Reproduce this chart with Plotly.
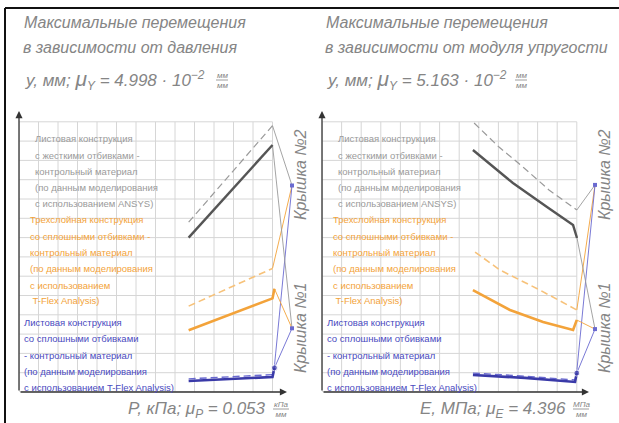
import plotly.graph_objects as go

W, H = 619, 423

# ---------------- data (drawing-grid units) ----------------
# Panel 1: displacement vs pressure
P_gray_solid_x = [8.7, 13.0]
P_gray_solid_y = [8.0, 12.8]
P_gray_dash_x = [8.7, 13.0]
P_gray_dash_y = [8.8, 13.8]
P_orange_solid_x = [8.7, 13.0, 13.1]
P_orange_solid_y = [3.2, 4.85, 5.35]
P_orange_dash_x = [8.7, 13.0]
P_orange_dash_y = [4.45, 6.4]
P_blue_solid_x = [8.7, 13.0, 13.1]
P_blue_solid_y = [0.57, 0.78, 1.25]
P_blue_dash_x = [8.7, 13.0, 13.1]
P_blue_dash_y = [0.68, 0.9, 1.35]
P_lid2 = [14.0, 10.7]
P_lid1 = [14.0, 3.3]

# Panel 2: displacement vs elastic modulus
E_gray_solid_x = [7.70, 8.57, 9.74, 11.48, 12.81, 13.01]
E_gray_solid_y = [12.54, 11.81, 10.83, 9.59, 8.65, 7.98]
E_gray_dash_x = [7.76, 9.03, 10.31, 11.58, 13.0]
E_gray_dash_y = [13.94, 12.69, 11.61, 10.47, 9.43]
E_orange_solid_x = [7.70, 8.57, 9.59, 11.28, 12.81, 13.0]
E_orange_solid_y = [5.28, 4.82, 4.25, 3.63, 3.21, 3.73]
E_orange_dash_x = [7.81, 9.08, 11.12, 13.0]
E_orange_dash_y = [7.25, 6.32, 5.28, 4.25]
E_blue_solid_x = [7.70, 10.36, 12.91, 13.0]
E_blue_solid_y = [0.88, 0.73, 0.52, 0.98]
E_blue_dash_x = [7.70, 10.36, 12.91, 13.0]
E_blue_dash_y = [0.98, 0.82, 0.62, 1.08]
E_lid2 = [13.93, 10.73]
E_lid1 = [13.93, 3.26]

GRID_NX, GRID_NY = 13, 14

titles1 = ["Максимальные перемещения", "в зависимости от давления"]
titles2 = ["Максимальные перемещения", "в зависимости от модуля упругости"]
mu_y1 = "4.998"
mu_y2 = "5.163"
xlab1 = ("P, кПа; μ", "P", "0.053", "кПа", "мм")
xlab2 = ("E, МПа; μ", "E", "4.396", "МПа", "мм")
lid_labels = ["Крышка №2", "Крышка №1"]

legend_gray = ["Листовая конструкция", "с жесткими отбивками -", "контрольный материал",
               "(по данным моделирования", "с использованием ANSYS)"]
legend_orange = ["Трехслойная конструкция", "со сплошными отбивками -", "контрольный материал",
                 "(по данным моделирования", "с использованием", " T-Flex Analysis)"]
legend_blue = ["Листовая конструкция", "со сплошными отбивками", "- контрольный материал",
               "(по данным моделирования", "с использованием T-Flex Analysis)"]

# ---------------- styles ----------------
C_GRAY_S = "#555555"
C_GRAY_D = "#9a9a9a"
C_OR = "#f3a33a"
C_OR_D = "#f7c27a"
C_BLUE = "#3a3aa8"
C_BLUE_L = "#6a6ad0"
C_TXT = "#858585"
FONT = "Liberation Sans, Arial, sans-serif"


def PX(x):
    return x / W


def PY(y):
    return 1 - y / H


fig = go.Figure()

panels = [
    dict(xa="x", ya="y", left=19, right=305, data=dict(
        gs=(P_gray_solid_x, P_gray_solid_y), gd=(P_gray_dash_x, P_gray_dash_y),
        os=(P_orange_solid_x, P_orange_solid_y), od=(P_orange_dash_x, P_orange_dash_y),
        bs=(P_blue_solid_x, P_blue_solid_y), bd=(P_blue_dash_x, P_blue_dash_y)),
        lid2=P_lid2, lid1=P_lid1, sx=19.5),
    dict(xa="x2", ya="y2", left=322, right=607, data=dict(
        gs=(E_gray_solid_x, E_gray_solid_y), gd=(E_gray_dash_x, E_gray_dash_y),
        os=(E_orange_solid_x, E_orange_solid_y), od=(E_orange_dash_x, E_orange_dash_y),
        bs=(E_blue_solid_x, E_blue_solid_y), bd=(E_blue_dash_x, E_blue_dash_y)),
        lid2=E_lid2, lid1=E_lid1, sx=19.6),
]

TOP, BOT, SY = 110, 392, 19.3

shapes = []
annotations = []

for k, p in enumerate(panels):
    xa, ya = p["xa"], p["ya"]
    d = p["data"]
    # grid
    for i in range(GRID_NX + 1):
        shapes.append(dict(type="line", xref=xa, yref=ya, x0=i, x1=i, y0=0, y1=GRID_NY,
                           line=dict(color="#d6d6d6", width=1), layer="below"))
    for j in range(GRID_NY + 1):
        shapes.append(dict(type="line", xref=xa, yref=ya, x0=0, x1=GRID_NX, y0=j, y1=j,
                           line=dict(color="#d6d6d6", width=1), layer="below"))
    # leader lines (lid 2 -> dashed curve ends, lid 1 -> solid curve ends)
    leaders = [
        ("gd", p["lid2"], C_GRAY_D), ("od", p["lid2"], C_OR), ("bd", p["lid2"], C_BLUE_L),
        ("gs", p["lid1"], C_GRAY_D), ("os", p["lid1"], C_OR), ("bs", p["lid1"], C_BLUE_L),
    ]
    for key, lid, col in leaders:
        xs, ys = d[key]
        fig.add_trace(go.Scatter(x=[lid[0], xs[-1]], y=[lid[1], ys[-1]], mode="lines",
                                 line=dict(color=col, width=0.9), xaxis=xa, yaxis=ya,
                                 showlegend=False, hoverinfo="skip"))
    # curves
    fig.add_trace(go.Scatter(x=d["gd"][0], y=d["gd"][1], mode="lines",
                             line=dict(color=C_GRAY_D, width=1.2, dash="7px,4px"),
                             xaxis=xa, yaxis=ya, showlegend=False))
    fig.add_trace(go.Scatter(x=d["gs"][0], y=d["gs"][1], mode="lines",
                             line=dict(color=C_GRAY_S, width=2.4),
                             xaxis=xa, yaxis=ya, showlegend=False))
    fig.add_trace(go.Scatter(x=d["od"][0], y=d["od"][1], mode="lines",
                             line=dict(color=C_OR_D, width=1.6, dash="7px,4px"),
                             xaxis=xa, yaxis=ya, showlegend=False))
    fig.add_trace(go.Scatter(x=d["os"][0], y=d["os"][1], mode="lines",
                             line=dict(color=C_OR, width=2.6),
                             xaxis=xa, yaxis=ya, showlegend=False))
    fig.add_trace(go.Scatter(x=d["bd"][0], y=d["bd"][1], mode="lines",
                             line=dict(color=C_BLUE_L, width=1.4, dash="7px,4px"),
                             xaxis=xa, yaxis=ya, showlegend=False))
    fig.add_trace(go.Scatter(x=d["bs"][0], y=d["bs"][1], mode="lines+markers",
                             line=dict(color=C_BLUE, width=2.6),
                             marker=dict(size=[0] * (len(d["bs"][0]) - 1) + [6], color=C_BLUE),
                             xaxis=xa, yaxis=ya, showlegend=False))
    fig.add_trace(go.Scatter(x=[p["lid2"][0], p["lid1"][0]], y=[p["lid2"][1], p["lid1"][1]],
                             mode="markers", marker=dict(size=4, color=C_BLUE_L, symbol="square"),
                             xaxis=xa, yaxis=ya, showlegend=False))
    # axes with arrows
    xend = (p["right"] - 18 - p["left"]) / p["sx"]
    annotations.append(dict(xref=xa, yref=ya, axref=xa, ayref=ya, x=xend, y=0, ax=0, ay=0,
                            text="", showarrow=True, arrowhead=2, arrowsize=1.1,
                            arrowwidth=1.3, arrowcolor="#333"))
    annotations.append(dict(xref=xa, yref=ya, axref=xa, ayref=ya, x=0, y=(BOT - TOP - 1) / SY,
                            ax=0, ay=0, text="", showarrow=True, arrowhead=2, arrowsize=1.1,
                            arrowwidth=1.3, arrowcolor="#333"))

# ---------------- layout of subplots ----------------
yr = [0, (BOT - TOP) / SY]
layout_axes = {}
for k, p in enumerate(panels):
    sfx = "" if k == 0 else "2"
    layout_axes["xaxis" + sfx] = dict(domain=[PX(p["left"]), PX(p["right"])],
                                      range=[0, (p["right"] - p["left"]) / p["sx"]],
                                      visible=False, fixedrange=True,
                                      anchor="y" + sfx)
    layout_axes["yaxis" + sfx] = dict(domain=[PY(BOT), PY(TOP)], range=yr, visible=False,
                                      fixedrange=True, anchor="x" + sfx)


def txt(x, y, s, size, color=C_TXT, xanchor="left", angle=0):
    annotations.append(dict(xref="paper", yref="paper", x=PX(x), y=PY(y), text=s,
                            showarrow=False, xanchor=xanchor, yanchor="middle",
                            textangle=angle, font=dict(family=FONT, size=size, color=color)))


# titles
for x0, tt, mu, fx in [(22, titles1, mu_y1, 222), (324, titles2, mu_y2, 521)]:
    txt(x0, 23, "<i>" + tt[0] + "</i>", 16, C_TXT)
    txt(x0 - 1, 48, "<i>" + tt[1] + "</i>", 16, C_TXT)
    txt(x0 + 1, 80, "<i>y, мм; </i><span style='font-size:21px'><i>μ</i></span><sub><i>Y</i></sub><i> = "
        + mu + " · 10</i><sup><i>−2</i></sup>", 17, C_TXT)
    txt(fx, 80, "<i>мм</i><br><i>мм</i>", 8, C_TXT, xanchor="center")
    shapes.append(dict(type="line", xref="paper", yref="paper", x0=PX(fx - 6), x1=PX(fx + 6),
                       y0=PY(80), y1=PY(80), line=dict(color=C_TXT, width=0.8)))

# bottom axis labels
for xr, lab in [(268, xlab1), (568, xlab2)]:
    txt(xr, 410, "<i>" + lab[0] + "</i><sub><i>" + lab[1] + "</i></sub><i> = " + lab[2] + "</i>",
        17, C_TXT, xanchor="right")
    txt(xr + 13, 409, "<i>" + lab[3] + "</i><br><i>" + lab[4] + "</i>", 8, C_TXT, xanchor="center")
    shapes.append(dict(type="line", xref="paper", yref="paper", x0=PX(xr + 5), x1=PX(xr + 21),
                       y0=PY(409), y1=PY(409), line=dict(color=C_TXT, width=0.8)))

# lid labels (rotated)
for xc in (300, 604):
    txt(xc, 175, "<i>" + lid_labels[0] + "</i>", 16, C_TXT, xanchor="center", angle=-90)
    txt(xc, 328, "<i>" + lid_labels[1] + "</i>", 16, C_TXT, xanchor="center", angle=-90)

# legend texts inside panels
gray_y = [139, 155, 171, 187, 203]
orange_y = [219, 236, 252, 268, 285, 300]
blue_y = [322, 338, 355, 371, 387]
for dx in (0, 303):
    for s, y in zip(legend_gray, gray_y):
        txt(33 + dx, y, s, 9.5, "#9a9a9a")
    for s, y in zip(legend_orange, orange_y):
        txt(28 + dx, y, s, 9.5, C_OR)
    for s, y in zip(legend_blue, blue_y):
        txt(22 + dx, y, s, 9.5, "#4a4ac0")

# outer drawing frame
shapes.append(dict(type="line", xref="paper", yref="paper", x0=PX(5), x1=1.0, y0=PY(8), y1=PY(8),
                   line=dict(color="#111", width=2)))
shapes.append(dict(type="line", xref="paper", yref="paper", x0=PX(5), x1=PX(5), y0=PY(8), y1=0,
                   line=dict(color="#111", width=2)))

fig.update_layout(width=W, height=H, margin=dict(l=0, r=0, t=0, b=0),
                  paper_bgcolor="white", plot_bgcolor="rgba(0,0,0,0)",
                  shapes=shapes, annotations=annotations, showlegend=False, **layout_axes)

fig.write_html("out.html", config={"displayModeBar": False},
               post_script="document.body.style.margin='0';document.body.style.overflow='hidden';")
